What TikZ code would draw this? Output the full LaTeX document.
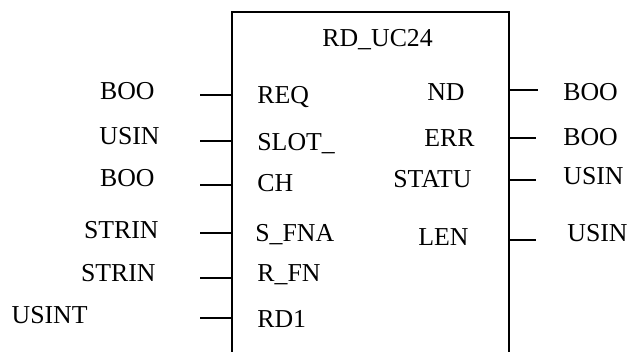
\documentclass[tikz,border=0pt]{standalone}
\usepackage{fontspec}
\setmainfont{Liberation Serif}
\begin{document}
\begin{tikzpicture}[x=0.5pt,y=-0.5pt,
  every node/.style={inner sep=0pt,font=\fontsize{12.9}{15}\selectfont},
  pin/.style={line width=1.3pt}]

\clip (0,0) rectangle (627,352);
\node[draw,line width=1pt,anchor=north west,minimum width=138.5pt,minimum height=220pt] (fb) at (231,11) {};
\node[anchor=base west] (title) at (322,47) {RD\_UC24};

% inputs
\node[anchor=base west] (req) at (257,104) {REQ};
\node[anchor=base west] (slot) at (257,151) {SLOT\_};
\node[anchor=base west] (ch) at (257,192) {CH};
\node[anchor=base west] (sfna) at (255,242) {S\_FNA};
\node[anchor=base west] (rfn) at (257,282) {R\_FN};
\node[anchor=base west] (rd) at (257,328) {RD1};

\node[anchor=base east] (treq) at (155,100) {BOO};
\node[anchor=base east] (tslot) at (160,145) {USIN};
\node[anchor=base east] (tch) at (155,187) {BOO};
\node[anchor=base east] (tsfna) at (159,239) {STRIN};
\node[anchor=base east] (trfn) at (156,282) {STRIN};
\node[anchor=base east] (trd) at (88,324) {USINT};

\coordinate (i1) at (200,95);
\coordinate (i2) at (200,141);
\coordinate (i3) at (200,185);
\coordinate (i4) at (200,233);
\coordinate (i5) at (200,278);
\coordinate (i6) at (200,318);
\draw[pin] (i1) -- (i1 -| fb.west);
\draw[pin] (i2) -- (i2 -| fb.west);
\draw[pin] (i3) -- (i3 -| fb.west);
\draw[pin] (i4) -- (i4 -| fb.west);
\draw[pin] (i5) -- (i5 -| fb.west);
\draw[pin] (i6) -- (i6 -| fb.west);

% outputs
\node[anchor=base east] (nd) at (465,101) {ND};
\node[anchor=base east] (err) at (475,147) {ERR};
\node[anchor=base east] (statu) at (472,188) {STATU};
\node[anchor=base east] (len) at (469,246) {LEN};

\node[anchor=base west] (tnd) at (563,101) {BOO};
\node[anchor=base west] (terr) at (563,146) {BOO};
\node[anchor=base west] (tstatu) at (563,185) {USIN};
\node[anchor=base west] (tlen) at (567,242) {USIN};

\coordinate (o1) at (538,90);
\coordinate (o2) at (536,138);
\coordinate (o3) at (536,180);
\coordinate (o4) at (536,240);
\draw[pin] (fb.east |- o1) -- (o1);
\draw[pin] (fb.east |- o2) -- (o2);
\draw[pin] (fb.east |- o3) -- (o3);
\draw[line width=1pt] (fb.east |- o4) -- (o4);

\end{tikzpicture}
\end{document}
